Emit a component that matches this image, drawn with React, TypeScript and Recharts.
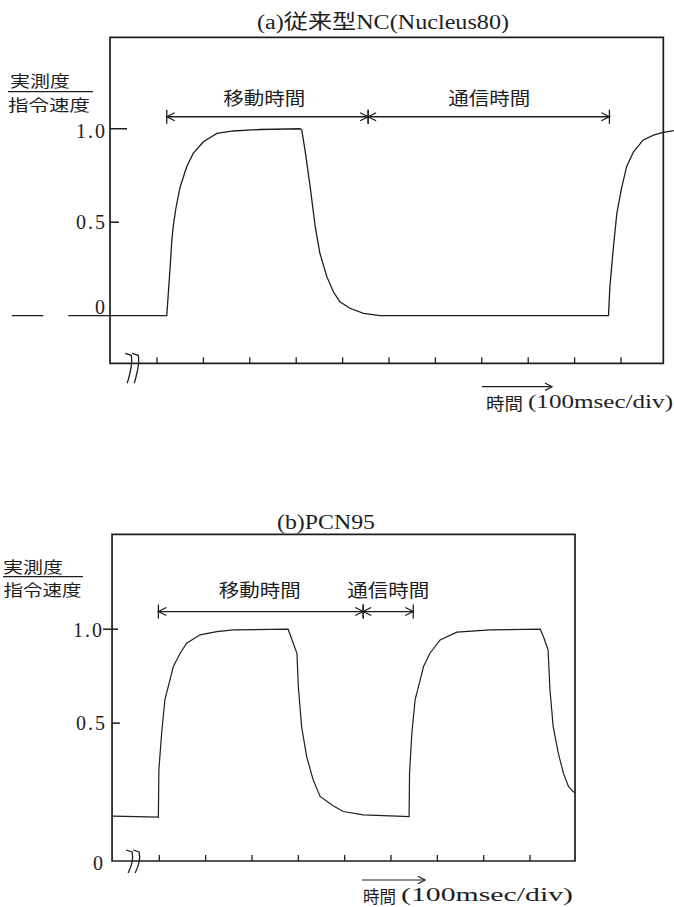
import React from 'react';
import { LineChart, Line, XAxis, YAxis, ReferenceArea, ReferenceLine, ReferenceDot } from 'recharts';

const FONT = "'Liberation Serif', 'Noto Sans CJK JP', serif";
const CJK = "'Noto Sans CJK JP', sans-serif";
const INK = '#1e1e1e';

// ---------- (a) 従来型NC (Nucleus80) : time in msec, value = 実測度/指令速度 ----------
const traceA_t = [-313, -245, -218, -191, 21, 28, 32, 35, 41, 50, 64, 78, 100, 129, 164, 222, 308, 312, 319, 330, 341, 351, 366, 380, 394, 416, 445, 481, 973, 976, 983, 991, 1001, 1012, 1027, 1048, 1070, 1091, 1114];
const traceA_v = [0, 0, null, 0, 0, 0.25, 0.405, 0.48, 0.58, 0.69, 0.797, 0.868, 0.93, 0.975, 0.988, 0.996, 1.0, 0.993, 0.886, 0.69, 0.476, 0.334, 0.209, 0.128, 0.075, 0.04, 0.013, 0, 0, 0.155, 0.35, 0.548, 0.68, 0.797, 0.877, 0.94, 0.966, 0.98, 0.99];
const ticksA = [0, 100, 200, 300, 400, 500, 600, 700, 800, 900, 1000];
const spansA = [[21, 455], [455, 975]];
const spanLabelsA = ['移動時間', '通信時間'];
const spanLabelPosA = [231, 716];

// ---------- (b) PCN95 ----------
const traceB_t = [-100, -50, -2, -1, 5, 12, 23, 30, 45, 59, 88, 124, 160, 278, 289, 297, 300, 307, 318, 332, 347, 375, 397, 440, 498, 539, 540, 545, 552, 563, 570, 584, 606, 642, 714, 822, 829, 839, 843, 850, 861, 872, 883, 893, 897];
const traceB_v = [0.005, 0.003, 0, 0.25, 0.446, 0.624, 0.73, 0.8, 0.872, 0.925, 0.97, 0.987, 0.996, 1.0, 0.925, 0.872, 0.695, 0.482, 0.322, 0.198, 0.11, 0.06, 0.03, 0.012, 0.007, 0.003, 0.234, 0.447, 0.624, 0.73, 0.8, 0.872, 0.943, 0.984, 0.996, 1.0, 0.96, 0.89, 0.677, 0.482, 0.34, 0.234, 0.163, 0.136, 0.13];
const ticksB = [0, 100, 200, 300, 400, 500, 600, 700, 800];
const spansB = [[-2, 440], [440, 548]];
const spanLabelsB = ['移動時間', '通信時間'];
const spanLabelPosB = [217, 494];

const yTickValues = [1.0, 0.5];
const yTickLabels = ['1.0', '0.5'];

const rowsA = traceA_t.map((t, i) => ({ t, v: traceA_v[i] }));
const rowsB = traceB_t.map((t, i) => ({ t, v: traceB_v[i] }));

const XTick = (props: any) => {
  const { x, y } = props;
  return <line x1={x} x2={x} y1={y} y2={y - 6} stroke={INK} strokeWidth={1.3} />;
};

const spanShape = (p: any) => {
  const x1 = Number(p.x1), x2 = Number(p.x2), y = Number(p.y1);
  const h = 7, a = 8, w = 4;
  return (
    <g stroke={INK} strokeWidth={1.3} fill="none">
      <line x1={x1} y1={y} x2={x2} y2={y} />
      <line x1={x1} y1={y - h} x2={x1} y2={y + h} />
      <line x1={x2} y1={y - h} x2={x2} y2={y + h} />
      <polyline points={`${x1 + a},${y - w} ${x1},${y} ${x1 + a},${y + w}`} />
      <polyline points={`${x2 - a},${y - w} ${x2},${y} ${x2 - a},${y + w}`} />
    </g>
  );
};

const labelShape = (label: string) => (p: any) => (
  <text x={p.cx} y={p.cy} textAnchor="middle" dominantBaseline="central" fontFamily={CJK} fontSize={18} fill={INK} textLength={82} lengthAdjust="spacingAndGlyphs">{label}</text>
);

const yTickShape = (label: string, dx: number, dy: number) => (p: any) => (
  <g>
    <line x1={p.x1} y1={p.y1} x2={p.x2} y2={p.y2} stroke={INK} strokeWidth={1.5} />
    <text x={Number(p.x1) + dx} y={Number(p.y1) + dy} textAnchor="end" dominantBaseline="central" fontFamily={FONT} fontSize={20} fill={INK} textLength={29} lengthAdjust="spacing">{label}</text>
  </g>
);

const zeroShape = (dx: number, dy: number) => (p: any) => (
  <text x={p.cx + dx} y={p.cy + dy} textAnchor="end" dominantBaseline="central" fontFamily={FONT} fontSize={20} fill={INK}>0</text>
);

const breakShape = (top: number, bottom: number) => (p: any) => {
  const { cx, cy } = p;
  return (
    <g stroke={INK} strokeWidth={1.3} fill="none">
      <path d={`M${cx - 10},${cy - top} L${cx - 4},${cy - top + 2} Q${cx - 2},${cy} ${cx - 8},${cy + bottom}`} />
      <path d={`M${cx - 3},${cy - top} L${cx + 3},${cy - top + 2} Q${cx + 5},${cy} ${cx - 1},${cy + bottom}`} />
    </g>
  );
};

const ChartA = () => (
  <LineChart width={674} height={450} data={rowsA} margin={{ top: 37.3, right: 0, bottom: 66.7, left: 0 }}>
    <XAxis dataKey="t" type="number" domain={[-338.4, 1114.2]} allowDataOverflow ticks={ticksA} interval={0} tick={XTick} tickSize={0} tickMargin={0} axisLine={false} tickLine={false} height={20} />
    <YAxis hide type="number" domain={[-0.2545, 1.489]} allowDataOverflow />
    <ReferenceArea x1={-101.3} x2={1091.2} y1={-0.2545} y2={1.489} fill="none" fillOpacity={0} stroke={INK} strokeWidth={1.7} ifOverflow="visible" />
    <ReferenceLine segment={[{ x: -101.3, y: yTickValues[0] }, { x: -64.7, y: yTickValues[0] }]} shape={yTickShape(yTickLabels[0], -5, 2)} ifOverflow="visible" />
    <ReferenceLine segment={[{ x: -101.3, y: yTickValues[1] }, { x: -82, y: yTickValues[1] }]} shape={yTickShape(yTickLabels[1], -5, 0)} ifOverflow="visible" />
    <ReferenceDot x={-101.3} y={0} shape={zeroShape(-5, -9)} ifOverflow="visible" />
    <ReferenceDot x={-47} y={-0.2545} shape={breakShape(10, 20)} ifOverflow="visible" />
    {spansA.map((s, i) => (
      <ReferenceLine key={'sa' + i} segment={[{ x: s[0], y: 1.064 }, { x: s[1], y: 1.064 }]} shape={spanShape} ifOverflow="visible" />
    ))}
    {spanLabelsA.map((l, i) => (
      <ReferenceDot key={'la' + i} x={spanLabelPosA[i]} y={1.17} shape={labelShape(l)} ifOverflow="visible" />
    ))}
    <Line dataKey="v" type="linear" stroke={INK} strokeWidth={1.3} dot={false} connectNulls={false} isAnimationActive={false} />
  </LineChart>
);

const ChartB = () => (
  <LineChart width={674} height={457} data={rowsB} margin={{ top: 84.3, right: 0, bottom: 26, left: 0 }}>
    <XAxis dataKey="t" type="number" domain={[-343.8, 1110.7]} allowDataOverflow ticks={ticksB} interval={0} tick={XTick} tickSize={0} tickMargin={0} axisLine={false} tickLine={false} height={20} />
    <YAxis hide type="number" domain={[-0.2335, 1.505]} allowDataOverflow />
    <ReferenceArea x1={-102} x2={897.1} y1={-0.2335} y2={1.505} fill="none" fillOpacity={0} stroke={INK} strokeWidth={1.7} ifOverflow="visible" />
    <ReferenceLine segment={[{ x: -121.5, y: yTickValues[0] }, { x: -89, y: yTickValues[0] }]} shape={yTickShape(yTickLabels[0], -1, 1)} ifOverflow="visible" />
    <ReferenceLine segment={[{ x: -102, y: yTickValues[1] }, { x: -85, y: yTickValues[1] }]} shape={yTickShape(yTickLabels[1], -7, 0)} ifOverflow="visible" />
    <ReferenceDot x={-102} y={-0.2335} shape={zeroShape(-9, 2)} ifOverflow="visible" />
    <ReferenceDot x={-50} y={-0.2335} shape={breakShape(11, 12)} ifOverflow="visible" />
    {spansB.map((s, i) => (
      <ReferenceLine key={'sb' + i} segment={[{ x: s[0], y: 1.094 }, { x: s[1], y: 1.094 }]} shape={spanShape} ifOverflow="visible" />
    ))}
    {spanLabelsB.map((l, i) => (
      <ReferenceDot key={'lb' + i} x={spanLabelPosB[i]} y={1.215} shape={labelShape(l)} ifOverflow="visible" />
    ))}
    <Line dataKey="v" type="linear" stroke={INK} strokeWidth={1.2} dot={false} isAnimationActive={false} />
  </LineChart>
);

const Overlay = () => (
  <svg width={674} height={907} style={{ position: 'absolute', left: 0, top: 0, pointerEvents: 'none' }}>
    <g fill={INK} fontFamily={FONT}>
      {/* (a) */}
      <text x={383} y={22} textAnchor="middle" dominantBaseline="central" fontSize={20} textLength={252} lengthAdjust="spacingAndGlyphs">(a)従来型NC(Nucleus80)</text>
      <text x={40} y={80} textAnchor="middle" dominantBaseline="central" fontFamily={CJK} fontSize={15.5} textLength={60} lengthAdjust="spacingAndGlyphs">実測度</text>
      <line x1={8} y1={91.7} x2={93} y2={91.7} stroke={INK} strokeWidth={1.3} />
      <text x={49} y={103.5} textAnchor="middle" dominantBaseline="central" fontFamily={CJK} fontSize={15.5} textLength={82} lengthAdjust="spacingAndGlyphs">指令速度</text>
      <line x1={482} y1={386.7} x2={552} y2={386.7} stroke={INK} strokeWidth={1.2} />
      <polyline points="545,383 552,386.7 545,390.4" stroke={INK} strokeWidth={1.2} fill="none" />
      <text x={486} y={402} dominantBaseline="central" fontFamily={CJK} fontSize={17} textLength={37} lengthAdjust="spacingAndGlyphs">時間</text>
      <text x={528} y={402} dominantBaseline="central" fontSize={18} textLength={145} lengthAdjust="spacingAndGlyphs">(100msec/div)</text>
      {/* (b) */}
      <text x={326} y={522} textAnchor="middle" dominantBaseline="central" fontSize={20} textLength={98} lengthAdjust="spacingAndGlyphs">(b)PCN95</text>
      <text x={33} y={566} textAnchor="middle" dominantBaseline="central" fontFamily={CJK} fontSize={15.5} textLength={60} lengthAdjust="spacingAndGlyphs">実測度</text>
      <line x1={3} y1={576.7} x2={83} y2={576.7} stroke={INK} strokeWidth={1.3} />
      <text x={42.5} y={589} textAnchor="middle" dominantBaseline="central" fontFamily={CJK} fontSize={15.5} textLength={78} lengthAdjust="spacingAndGlyphs">指令速度</text>
      <line x1={362} y1={880} x2={425} y2={880} stroke={INK} strokeWidth={1.2} />
      <polyline points="418,876.3 425,880 418,883.7" stroke={INK} strokeWidth={1.2} fill="none" />
      <text x={363} y={895} dominantBaseline="central" fontFamily={CJK} fontSize={17} textLength={33} lengthAdjust="spacingAndGlyphs">時間</text>
      <text x={401} y={895} dominantBaseline="central" fontSize={18} textLength={172} lengthAdjust="spacingAndGlyphs">(100msec/div)</text>
    </g>
  </svg>
);

export default function App() {
  return (
    <div style={{ position: 'absolute', left: 0, top: 0, width: 674, height: 907, background: '#fff', overflow: 'hidden' }}>
      <div style={{ position: 'absolute', left: 0, top: 0 }}>
        <ChartA />
      </div>
      <div style={{ position: 'absolute', left: 0, top: 450 }}>
        <ChartB />
      </div>
      <Overlay />
    </div>
  );
}
